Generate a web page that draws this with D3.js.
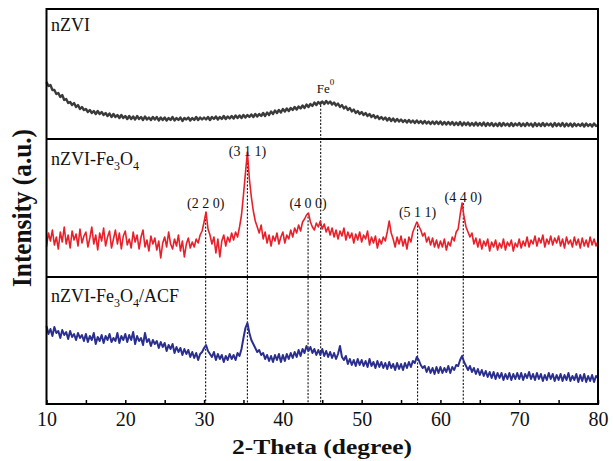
<!DOCTYPE html>
<html>
<head>
<meta charset="utf-8">
<script src="https://cdn.jsdelivr.net/npm/d3@7"></script>
<style>
  body { margin: 0; background: #fff; }
  text { font-family: "Liberation Serif", "Times New Roman", serif; fill: #111; }
</style>
</head>
<body>
<div class="chart"></div>
<script>
// 2θ grid of the scans, 10 -> 80 degree, step 0.25
const twoTheta = d3.range(0, 281).map(i => 10 + i * 0.25)

// intensities (a.u.), one row = 5 degree
const nZVI = [
  57, 53, 54, 49, 49, 45, 46, 42, 44, 39, 40, 36, 37, 34, 36, 32, 34, 30, 32, 29,
  30, 27, 29, 26, 28, 25, 28, 25, 27, 24, 26, 23, 25.5, 22, 25, 22, 24, 21, 24, 21,
  23, 20, 23, 20, 22.5, 19.5, 23, 20, 22, 19, 22.5, 19.5, 21.5, 19, 22, 19.5, 22, 18.5, 21.5, 19,
  21.5, 18.5, 21, 19, 22, 18.5, 21, 19, 21.5, 18, 21, 19.5, 21.5, 18.5, 21, 19, 22, 19, 21.5, 19.5,
  21.5, 19.5, 22, 19, 22, 20, 22.5, 19.5, 22, 20, 23, 20, 22.5, 20.5, 23, 20.5, 23.5, 21, 23.5, 21,
  24, 21.5, 24, 22, 24.5, 22, 25, 22.5, 25, 23, 26, 23, 26.5, 24, 27.5, 25, 28.5, 26, 29, 26.5,
  30, 27.5, 30.5, 28, 31, 29, 32, 29.5, 32.5, 30.5, 33.5, 31, 34.5, 32, 35, 33, 36.5, 34, 37, 35,
  37.5, 35, 38, 35.5, 37.5, 34.5, 36.5, 33.5, 35.5, 32, 34, 30.5, 32.5, 29, 31, 27.5, 29.5, 26, 28, 25,
  27, 24, 26, 23, 25, 22, 24, 21, 23, 20, 22, 19.5, 21.5, 18.5, 21, 18, 20.5, 17.5, 20, 17.5,
  19.5, 17, 19, 16.5, 19, 16.5, 18.5, 16, 18.5, 16, 18, 15.5, 18, 15.5, 17.5, 15, 17.5, 15, 17.5, 15,
  17.5, 14.5, 17, 14.5, 17, 14.5, 17, 14, 16.5, 14, 17, 13.5, 16.5, 14, 16.5, 13.5, 16, 13.5, 16.5, 13.5,
  16, 13.5, 16.5, 13, 16, 13.5, 16, 13, 15.5, 13, 16, 13, 16, 13.5, 15.5, 13, 16, 13, 15.5, 13.5,
  16, 13, 15.5, 13, 16, 13.5, 15.5, 12.5, 16, 13, 15.5, 13, 16, 13, 15.5, 13.5, 15.5, 12.5, 16, 13,
  15.5, 13, 16, 12.5, 15.5, 13, 15.5, 12.5, 15.5, 13, 15, 13, 15.5, 12.5, 15.5, 13, 15, 12.5, 15.5, 13,
  14
]

const nZVIFe3O4 = [
  30, 44, 36, 47, 32, 40, 28, 45, 35, 50, 33, 42, 29, 46, 37, 43, 31, 48, 34, 41,
  45, 30, 39, 50, 33, 42, 27, 44, 36, 49, 31, 40, 46, 29, 38, 47, 33, 44, 28, 41,
  46, 32, 38, 29, 45, 35, 42, 28, 40, 47, 30, 37, 26, 41, 33, 39, 27, 36, 19, 34,
  40, 30, 45, 33, 28, 38, 31, 42, 26, 36, 20, 33, 39, 29, 35, 30, 38, 34, 42, 46,
  55, 65, 48, 42, 33, 40, 24, 38, 20, 36, 42, 31, 40, 35, 44, 37, 45, 40, 50, 62,
  82, 104, 125, 98, 80, 66, 56, 50, 44, 52, 38, 45, 34, 42, 31, 41, 36, 44, 33, 40,
  45, 34, 42, 38, 47, 40, 49, 44, 52, 46, 55, 58, 62, 64, 55, 50, 47, 54, 50, 56,
  48, 53, 45, 50, 42, 49, 40, 47, 38, 46, 41, 49, 37, 45, 39, 44, 34, 43, 37, 45,
  35, 42, 38, 46, 32, 40, 34, 41, 29, 38, 33, 40, 36, 45, 56, 44, 38, 30, 40, 33,
  41, 31, 38, 28, 40, 35, 45, 50, 55, 51, 47, 41, 44, 35, 40, 32, 39, 30, 37, 29,
  36, 30, 38, 27, 35, 31, 40, 36, 45, 48, 62, 74, 60, 50, 45, 40, 44, 33, 39, 30,
  38, 28, 36, 31, 38, 26, 35, 30, 37, 27, 34, 29, 38, 27, 35, 31, 37, 26, 34, 30,
  38, 29, 36, 31, 40, 30, 37, 33, 41, 31, 39, 34, 42, 30, 38, 33, 41, 32, 39, 34,
  41, 31, 38, 29, 40, 33, 37, 30, 40, 32, 38, 29, 39, 31, 37, 30, 40, 32, 38, 31,
  36
]

const nZVIFe3O4ACF = [
  78, 70, 75, 68, 77, 71, 73, 66, 74, 69, 72, 65, 73, 67, 70, 64, 71, 66, 69, 63,
  70, 62, 68, 64, 71, 60, 67, 63, 69, 61, 68, 64, 70, 62, 66, 63, 71, 61, 68, 64,
  70, 62, 69, 64, 72, 60, 68, 63, 66, 59, 71, 62, 65, 58, 64, 60, 63, 56, 62, 57,
  61, 53, 59, 55, 60, 51, 57, 52, 56, 49, 55, 50, 54, 47, 52, 46, 51, 44, 50, 52,
  56, 59, 53, 50, 47, 52, 44, 50, 45, 49, 42, 48, 44, 50, 45, 49, 44, 51, 48, 55,
  66, 76, 81, 71, 64, 60, 56, 52, 54, 49, 51, 45, 49, 43, 48, 42, 49, 44, 50, 42,
  49, 43, 50, 45, 51, 46, 52, 47, 54, 48, 55, 51, 58, 53, 57, 51, 55, 49, 54, 49,
  55, 48, 53, 47, 52, 46, 51, 45, 50, 58, 47, 44, 48, 40, 45, 39, 44, 38, 45, 39,
  44, 38, 43, 37, 45, 38, 42, 36, 43, 37, 42, 36, 41, 35, 42, 36, 40, 34, 41, 35,
  40, 34, 41, 36, 42, 37, 43, 41, 47, 44, 39, 36, 38, 32, 37, 31, 36, 30, 37, 31,
  37, 31, 36, 32, 38, 31, 37, 34, 39, 38, 44, 48, 42, 38, 34, 38, 32, 36, 30, 35,
  29, 34, 28, 33, 27, 32, 26, 32, 25, 31, 26, 31, 24, 30, 25, 31, 24, 30, 25, 31,
  25, 31, 24, 30, 26, 32, 25, 30, 24, 31, 25, 30, 23, 29, 24, 31, 25, 30, 23, 29,
  24, 30, 23, 29, 24, 31, 23, 28, 24, 30, 22, 29, 23, 30, 22, 28, 23, 29, 22, 28,
  26
]

// Fe3O4 reflections and the Fe0 reflection
const peakPositions = [30.2, 35.5, 43.2, 57.1, 62.9]
const peakLabels = ['(2 2 0)', '(3 1 1)', '(4 0 0)', '(5 1 1)', '(4 4 0)']
const fePosition = 44.8
const xTicks = [10, 20, 30, 40, 50, 60, 70, 80]

const width = 613
const height = 461
const margin = {top: 9, right: 15, bottom: 57, left: 46.5}
const plotBottom = height - margin.bottom   // 404

// three stacked panels: [top, bottom] in px
const bands = [[margin.top, 139], [139, 277], [277, plotBottom]]

const svg = d3.select('.chart')
  .append('svg')
    .attr('width', width)
    .attr('height', height)

const x = d3.scaleLinear()
  .domain([10, 80])
  .range([margin.left, width - margin.right])

const yScales = bands.map(([t, b]) => d3.scaleLinear().domain([0, b - t]).range([b, t]))

const series = [
  {values: nZVI, color: '#3b3b3b', width: 2.4},
  {values: nZVIFe3O4, color: '#e8202a', width: 1.6},
  {values: nZVIFe3O4ACF, color: '#2b2f8e', width: 2}
]

// dashed reference lines, drawn first so the curves sit on top
function topValue(values, pos) {
  const i = Math.round((pos - 10) / 0.25)
  return d3.max(values.slice(Math.max(0, i - 1), i + 2))
}

const refs = peakPositions.map(p => ({pos: p, y: yScales[1](topValue(nZVIFe3O4, p))}))
refs.push({pos: fePosition, y: yScales[0](topValue(nZVI, fePosition))})

svg.append('g')
  .selectAll('line')
  .data(refs)
  .enter()
  .append('line')
    .attr('x1', d => x(d.pos))
    .attr('x2', d => x(d.pos))
    .attr('y1', d => d.y)
    .attr('y2', plotBottom)
    .attr('stroke', '#111')
    .attr('stroke-width', 1.1)
    .attr('stroke-dasharray', '2,1.6')

series.forEach((s, k) => {
  const line = d3.line()
    .x((d, i) => x(twoTheta[i]))
    .y(d => yScales[k](d))
  svg.append('path')
    .datum(s.values)
    .attr('d', line)
    .attr('fill', 'none')
    .attr('stroke', s.color)
    .attr('stroke-width', s.width)
    .attr('stroke-linejoin', 'round')
})

// frame + panel dividers
svg.append('rect')
  .attr('x', x(10))
  .attr('y', margin.top)
  .attr('width', x(80) - x(10))
  .attr('height', plotBottom - margin.top)
  .attr('fill', 'none')
  .attr('stroke', '#000')
  .attr('stroke-width', 2)

svg.selectAll('.divider')
  .data([bands[0][1], bands[1][1]])
  .enter()
  .append('line')
    .attr('class', 'divider')
    .attr('x1', x(10))
    .attr('x2', x(80))
    .attr('y1', d => d)
    .attr('y2', d => d)
    .attr('stroke', '#000')
    .attr('stroke-width', 2.2)

// x axis, minor ticks every 5 degree pointing inward
const xAxis = d3.axisBottom(x)
  .tickValues(d3.range(10, 81, 5))
  .tickSizeInner(-4)
  .tickSizeOuter(0)
  .tickPadding(8)
  .tickFormat(d => xTicks.includes(d) ? d : '')

const gx = svg.append('g')
  .attr('transform', `translate(0, ${plotBottom})`)
  .call(xAxis)
gx.select('.domain').remove()
gx.selectAll('.tick line').attr('stroke', '#000').attr('stroke-width', 1.5)
gx.selectAll('.tick text')
  .style('font-family', '"Liberation Serif", "Times New Roman", serif')
  .style('font-size', '20px')
  .attr('fill', '#111')

svg.append('text')
  .attr('x', 322)
  .attr('y', 454)
  .attr('text-anchor', 'middle')
  .attr('textLength', 180)
  .attr('lengthAdjust', 'spacingAndGlyphs')
  .style('font-size', '22px')
  .style('font-weight', 'bold')
  .text('2-Theta (degree)')

svg.append('text')
  .attr('transform', 'translate(31, 208) rotate(-90)')
  .attr('text-anchor', 'middle')
  .attr('textLength', 158)
  .attr('lengthAdjust', 'spacingAndGlyphs')
  .style('font-size', '27px')
  .style('font-weight', 'bold')
  .text('Intensity (a.u.)')

// panel names
function panelLabel(y, suffix) {
  const t = svg.append('text')
    .attr('x', 51)
    .attr('y', y)
    .style('font-size', '18px')
  if (suffix === null) { t.text('nZVI'); return }
  t.append('tspan').text('nZVI-Fe')
  t.append('tspan').attr('dy', 5).style('font-size', '12px').text('3')
  t.append('tspan').attr('dy', -5).text('O')
  t.append('tspan').attr('dy', 5).style('font-size', '12px').text('4')
  t.append('tspan').attr('dy', -5).text(suffix)
}
panelLabel(31, null)
panelLabel(165, '')
panelLabel(302, '/ACF')

// reflection labels
const labelDy = [-4, 4, -5, -5, -1]
svg.selectAll('.hkl')
  .data(peakLabels)
  .enter()
  .append('text')
    .attr('class', 'hkl')
    .attr('x', (d, i) => x(peakPositions[i]))
    .attr('y', (d, i) => refs[i].y + labelDy[i])
    .attr('text-anchor', 'middle')
    .style('font-size', '14px')
    .text(d => d)

const fe = svg.append('text')
  .attr('x', x(fePosition) - 4)
  .attr('y', 93)
  .style('font-size', '13px')
fe.append('tspan').text('Fe')
fe.append('tspan').attr('dy', -8).style('font-size', '9px').text('0')
</script>
</body>
</html>
